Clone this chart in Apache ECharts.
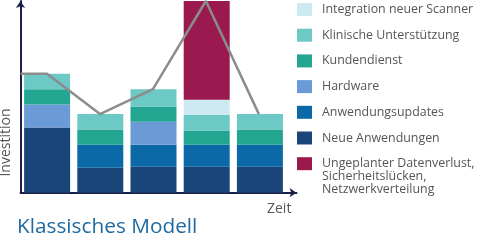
<!DOCTYPE html>
<html><head><meta charset="utf-8">
<script src="https://cdn.jsdelivr.net/npm/echarts@6/dist/echarts.min.js"></script>
<style>html,body{margin:0;padding:0;background:#fff}#c{width:480px;height:241px}</style>
</head><body><div id="c"></div>
<script>
var categories = ['1', '2', '3', '4', '5'];
var seriesNames = ['Neue Anwendungen','Anwendungsupdates','Hardware','Kundendienst','Klinische Unterstützung','Integration neuer Scanner','Ungeplanter Datenverlust, Sicherheitslücken, Netzwerkverteilung'];
var neueAnwendungen   = [34, 13, 13.5, 13.5, 13.5];
var anwendungsupdates = [0, 12, 11.5, 11.5, 11.5];
var hardware          = [12, 0, 12, 0, 0];
var kundendienst      = [8, 8, 8, 7.5, 8];
var klinische         = [8, 8, 9, 8, 8];
var integration       = [0, 0, 0, 8, 0];
var ungeplant         = [0, 0, 0, 51.5, 0];
var lineX = [-0.5, 0, 1, 2, 3, 4];
var lineY = [62, 62, 41, 54, 100, 41];
var colors = ['#1a4578','#0b69a8','#6a9bd6','#22a591','#6cc9c5','#cdeaf3','#9a1a4f'];
var legendOrder = [5,4,3,2,1,0,6];

var values = [neueAnwendungen, anwendungsupdates, hardware, kundendienst, klinische, integration, ungeplant];
var series = values.map(function(arr, k){
  return {
    name: seriesNames[k], type: 'bar', stack: 'total', barWidth: 46,
    xAxisIndex: 1, yAxisIndex: 1,
    itemStyle: {color: colors[k]},
    data: arr.slice(),
    silent: true
  };
});
series.push({
  name: 'Linie', type: 'line', symbol: 'none', xAxisIndex: 0, yAxisIndex: 0,
  lineStyle: {color: '#8c8c8c', width: 2.5},
  data: lineX.map(function(x, i){ return [x, lineY[i]]; }),
  z: 5
});
var axisStyle = {color: '#1a1f45', width: 2};
var chart = echarts.init(document.getElementById('c'));
chart.setOption({
  animation: false,
  grid: [
    {left: 20.5, right: 183.5, top: 1, bottom: 48.3},
    {left: 20.5, right: 193.5, top: 1, bottom: 48.3}
  ],
  xAxis: [
    {type: 'value', gridIndex: 0, min: -0.5, max: 4.71,
      axisLine: {show: true, onZero: false, lineStyle: axisStyle, symbol: ['none','arrow'], symbolSize: [7, 7]},
      axisTick: {show: false}, axisLabel: {show: false}, splitLine: {show: false}},
    {type: 'category', gridIndex: 1, data: categories,
      axisLine: {show: false}, axisTick: {show: false}, axisLabel: {show: false}, splitLine: {show: false}}
  ],
  yAxis: [
    {type: 'value', gridIndex: 0, min: 0, max: 100,
      axisLine: {show: true, onZero: false, lineStyle: axisStyle, symbol: ['none','arrow'], symbolSize: [7, 7]},
      axisTick: {show: false}, axisLabel: {show: false}, splitLine: {show: false}},
    {type: 'value', gridIndex: 1, min: 0, max: 100, show: false}
  ],
  legend: {
    orient: 'vertical', left: 292, top: -2, itemWidth: 15, itemHeight: 13, itemGap: 12.7,
    icon: 'rect',
    data: legendOrder.map(function(k){ return seriesNames[k]; }),
    formatter: function(n){ return n.indexOf('Ungeplanter') === 0 ? 'Ungeplanter Datenverlust,' : n; },
    textStyle: {fontFamily: 'Open Sans', fontSize: 12.4, color: '#555', padding: [0,0,0,5], lineHeight: 13}
  },
  title: {text: 'Klassisches Modell', left: 12, top: 211.5,
    textStyle: {fontFamily: 'Open Sans', fontSize: 20.8, fontWeight: 'normal', color: '#1e6aa0'}},
  graphic: [
    {type: 'text', left: 322, top: 169.5, style: {text: 'Sicherheitslücken,\nNetzwerkverteilung', font: '12.4px "Open Sans"', fill: '#555', lineHeight: 13.5}},
    {type: 'text', x: 6, y: 142.5, rotation: Math.PI/2, style: {text: 'Investition', font: '14px "Open Sans"', fill: '#555', align: 'center', verticalAlign: 'middle'}},
    {type: 'text', left: 267, top: 202.5, style: {text: 'Zeit', font: '14px "Open Sans"', fill: '#555'}}
  ],
  series: series
});
</script></body></html>
